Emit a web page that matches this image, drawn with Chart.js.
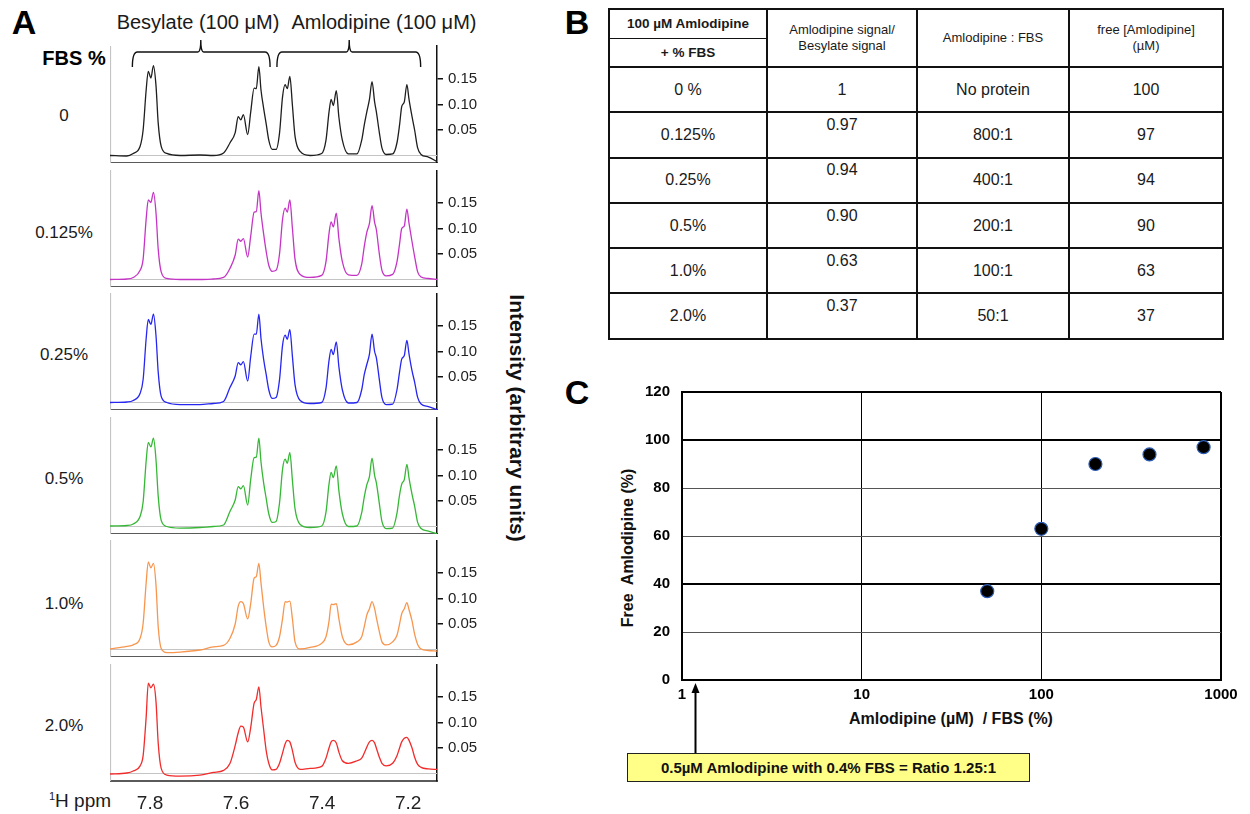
<!DOCTYPE html>
<html>
<head>
<meta charset="utf-8">
<script src="https://cdn.jsdelivr.net/npm/chart.js@4.4.1/dist/chart.umd.min.js"></script>
<style>
  body { margin: 0; background: #fff; font-family: "Liberation Sans", Arial, sans-serif; color: #1a1a1a; }
  #page { position: relative; width: 1250px; height: 814px; overflow: hidden; background: #fff; }
  .txt { position: absolute; line-height: 1; white-space: pre; transform: translate(-50%, -50%); }
  #tbl { position: absolute; left: 608px; top: 8px; width: 614px; border-collapse: collapse; table-layout: fixed; }
  #tbl td { border: 2px solid #111; text-align: center; vertical-align: middle; padding: 0; font-size: 16px; color: #1a1a1a; }
  #tbl tr.head td { height: 56px; font-size: 13px; line-height: 16px; }
  #tbl tr.body td { height: 43.3px; }
  #tbl span.raised { position: relative; top: -10px; }
  .hsplit { font-weight: bold; font-size: 13.5px; height: 27.5px; line-height: 27.5px; }
  .hsplit.top { border-bottom: 1.5px solid #111; }
  #note { position: absolute; left: 627px; top: 753px; width: 401px; height: 27px; background: #ffff88; border: 1.5px solid #222;
          font-weight: bold; font-size: 15px; line-height: 27px; text-align: center; color: #111; }
</style>
</head>
<body>
<div id="page"></div>
<script>
// ---- chemical shift axis (ppm) shared by all spectra ----
const ppm = [
  7.893, 7.854, 7.839, 7.823, 7.816, 7.809, 7.804, 7.798, 7.792, 7.786,
  7.781, 7.774, 7.761, 7.730, 7.684, 7.653, 7.629, 7.614, 7.602, 7.595,
  7.589, 7.583, 7.573, 7.566, 7.558, 7.553, 7.547, 7.542, 7.536, 7.530,
  7.524, 7.516, 7.507, 7.499, 7.492, 7.486, 7.481, 7.475, 7.469, 7.463,
  7.451, 7.428, 7.401, 7.391, 7.384, 7.379, 7.374, 7.367, 7.361, 7.353,
  7.339, 7.319, 7.308, 7.302, 7.296, 7.290, 7.284, 7.278, 7.274, 7.267,
  7.261, 7.251, 7.236, 7.226, 7.220, 7.215, 7.209, 7.203, 7.198, 7.191,
  7.185, 7.178, 7.170, 7.153, 7.133
];
const ppmTicks = [7.8, 7.6, 7.4, 7.2];
const intensityTicks = [0.05, 0.10, 0.15];

// ---- 1H spectra, one per FBS concentration ----
const spec0 = [
  0.000, -0.001, 0.004, 0.018, 0.050, 0.128, 0.165, 0.152, 0.176, 0.136,
  0.064, 0.018, 0.004, 0.000, 0.001, 0.000, 0.005, 0.025, 0.045, 0.076,
  0.070, 0.080, 0.041, 0.085, 0.132, 0.131, 0.174, 0.128, 0.093, 0.062,
  0.030, 0.012, 0.012, 0.044, 0.115, 0.139, 0.131, 0.155, 0.098, 0.038,
  0.008, 0.000, 0.004, 0.030, 0.085, 0.110, 0.098, 0.127, 0.075, 0.030,
  0.003, 0.003, 0.030, 0.060, 0.086, 0.110, 0.145, 0.105, 0.086, 0.045,
  0.015, 0.002, 0.003, 0.025, 0.060, 0.096, 0.105, 0.139, 0.110, 0.076,
  0.050, 0.015, 0.002, -0.003, -0.012
];
const spec0125 = [
  0.000, 0.001, 0.004, 0.018, 0.040, 0.118, 0.156, 0.151, 0.171, 0.130,
  0.060, 0.015, 0.002, 0.000, 0.000, 0.001, 0.004, 0.022, 0.048, 0.079,
  0.075, 0.080, 0.044, 0.085, 0.132, 0.133, 0.174, 0.130, 0.090, 0.055,
  0.028, 0.016, 0.018, 0.050, 0.118, 0.140, 0.132, 0.156, 0.100, 0.040,
  0.010, 0.004, 0.008, 0.035, 0.090, 0.113, 0.103, 0.130, 0.080, 0.035,
  0.009, 0.008, 0.030, 0.065, 0.093, 0.110, 0.145, 0.112, 0.098, 0.050,
  0.018, 0.007, 0.010, 0.035, 0.070, 0.100, 0.105, 0.138, 0.110, 0.074,
  0.045, 0.015, 0.005, 0.002, 0.000
];
const spec025 = [
  0.000, 0.001, 0.004, 0.018, 0.045, 0.125, 0.163, 0.153, 0.173, 0.130,
  0.060, 0.012, 0.000, -0.004, -0.004, -0.002, 0.002, 0.030, 0.052, 0.078,
  0.074, 0.080, 0.042, 0.090, 0.134, 0.134, 0.173, 0.125, 0.085, 0.055,
  0.025, 0.008, 0.010, 0.045, 0.112, 0.132, 0.124, 0.143, 0.090, 0.035,
  0.004, -0.002, 0.000, 0.028, 0.082, 0.104, 0.094, 0.119, 0.070, 0.025,
  -0.001, 0.000, 0.025, 0.055, 0.075, 0.095, 0.134, 0.100, 0.088, 0.045,
  0.010, -0.004, -0.003, 0.025, 0.060, 0.085, 0.092, 0.122, 0.095, 0.062,
  0.040, 0.010, -0.003, -0.008, -0.014
];
const spec05 = [
  0.001, 0.002, 0.005, 0.020, 0.048, 0.128, 0.165, 0.156, 0.173, 0.130,
  0.060, 0.012, 0.000, -0.003, -0.002, 0.000, 0.003, 0.030, 0.052, 0.078,
  0.074, 0.080, 0.042, 0.092, 0.135, 0.136, 0.173, 0.126, 0.086, 0.055,
  0.025, 0.008, 0.010, 0.046, 0.112, 0.132, 0.124, 0.145, 0.090, 0.035,
  0.004, -0.002, 0.001, 0.028, 0.083, 0.106, 0.096, 0.119, 0.070, 0.025,
  0.000, 0.001, 0.027, 0.058, 0.082, 0.098, 0.134, 0.100, 0.086, 0.045,
  0.010, -0.004, -0.003, 0.026, 0.062, 0.083, 0.092, 0.122, 0.095, 0.063,
  0.040, 0.008, -0.004, -0.009, -0.014
];
const spec10 = [
  0.001, 0.006, 0.009, 0.022, 0.051, 0.130, 0.172, 0.160, 0.169, 0.125,
  0.045, 0.002, -0.006, -0.005, -0.001, 0.005, 0.008, 0.022, 0.050, 0.085,
  0.094, 0.090, 0.060, 0.090, 0.140, 0.143, 0.169, 0.130, 0.084, 0.045,
  0.015, 0.005, 0.008, 0.025, 0.060, 0.094, 0.093, 0.095, 0.060, 0.015,
  0.001, 0.004, 0.012, 0.025, 0.055, 0.089, 0.088, 0.090, 0.060, 0.025,
  0.009, 0.015, 0.025, 0.045, 0.068, 0.080, 0.094, 0.080, 0.063, 0.035,
  0.015, 0.009, 0.015, 0.028, 0.050, 0.070, 0.080, 0.092, 0.078, 0.056,
  0.030, 0.010, 0.001, -0.002, -0.003
];
const spec20 = [
  -0.001, 0.001, 0.005, 0.015, 0.035, 0.110, 0.177, 0.168, 0.175, 0.140,
  0.060, 0.010, -0.003, -0.005, -0.003, 0.002, 0.006, 0.020, 0.055, 0.080,
  0.093, 0.091, 0.062, 0.090, 0.138, 0.145, 0.170, 0.130, 0.087, 0.045,
  0.020, 0.007, 0.008, 0.020, 0.040, 0.058, 0.065, 0.062, 0.045, 0.022,
  0.008, 0.010, 0.014, 0.030, 0.050, 0.062, 0.065, 0.060, 0.042, 0.025,
  0.020, 0.025, 0.030, 0.040, 0.052, 0.062, 0.065, 0.060, 0.050, 0.032,
  0.020, 0.015, 0.020, 0.035, 0.050, 0.062, 0.069, 0.071, 0.065, 0.050,
  0.032, 0.018, 0.012, 0.009, 0.008
];
const spectra = [spec0, spec0125, spec025, spec05, spec10, spec20];
const fbsLabels = ["0", "0.125%", "0.25%", "0.5%", "1.0%", "2.0%"];
const lineColors = ["#1e1e1e", "#c535c5", "#2626f0", "#36b836", "#f7964f", "#f22b2b"];

// brackets over the besylate and amlodipine signals (ppm)
const bracketSpans = [
  { from: 7.841, to: 7.521, mid: 7.682 },
  { from: 7.505, to: 7.171, mid: 7.337 }
];

// ---- table B / plot C ----
const tableFbs = ["0 %", "0.125%", "0.25%", "0.5%", "1.0%", "2.0%"];
const signalRatio = ["1", "0.97", "0.94", "0.90", "0.63", "0.37"];
const ratioText = ["No protein", "800:1", "400:1", "200:1", "100:1", "50:1"];
const amloPerFbs = [null, 800, 400, 200, 100, 50];
const freeAmlo = [100, 97, 94, 90, 63, 37];
const logTicks = [1, 10, 100, 1000];
const freeTicks = [0, 20, 40, 60, 80, 100, 120];
const noteRatio = 1.25;

const page = document.getElementById("page");
const FONT = '"Liberation Sans", Arial, sans-serif';

function label(text, cx, cy, css) {
  const d = document.createElement("div");
  d.className = "txt";
  d.innerHTML = text;
  d.style.left = cx + "px";
  d.style.top = cy + "px";
  d.style.cssText += css || "";
  page.appendChild(d);
  return d;
}

// drop the half-label padding Chart.js reserves around axes
function noLabelPadding(s) {
  s.paddingTop = 0;
  s.paddingBottom = 0;
  s.paddingLeft = 0;
  s.paddingRight = 0;
}

// ================= panel A =================
label("A", 24, 22, "font-weight:bold;font-size:34px;color:#000");
label("B", 577, 22, "font-weight:bold;font-size:34px;color:#000");
label("C", 577, 392, "font-weight:bold;font-size:34px;color:#000");

label("Besylate (100 μM)", 198, 22, "font-size:20px");
label("Amlodipine (100 μM)", 384, 22, "font-size:20px");
label("FBS %", 74, 58, "font-weight:bold;font-size:20px;color:#000");
label("Intensity (arbitrary units)", 517, 418, "font-weight:bold;font-size:21px;color:#111;transform:translate(-50%,-50%) rotate(90deg)");
label("<sup style='font-size:11px;vertical-align:7px'>1</sup>H ppm", 80, 800, "font-size:19px");

const rowLabelY = [115, 232, 354, 478, 603, 725];
fbsLabels.forEach((t, i) => label(t, 64, rowLabelY[i], "font-size:17px"));

const bracketPlugin = {
  id: "brackets",
  afterDraw(chart) {
    const { ctx, scales: { x } } = chart;
    const yh = 32, yb = 47;
    ctx.save();
    ctx.strokeStyle = "#111";
    ctx.lineWidth = 1.4;
    bracketSpans.forEach(b => {
      const x1 = x.getPixelForValue(b.from);
      const x2 = x.getPixelForValue(b.to);
      const xm = x.getPixelForValue(b.mid);
      ctx.beginPath();
      ctx.moveTo(x1, yb);
      ctx.quadraticCurveTo(x1, yh, x1 + 5, yh);
      ctx.lineTo(xm - 3, yh);
      ctx.quadraticCurveTo(xm, yh, xm, yh - 12);
      ctx.quadraticCurveTo(xm, yh, xm + 3, yh);
      ctx.lineTo(x2 - 5, yh);
      ctx.quadraticCurveTo(x2, yh, x2, yb);
      ctx.stroke();
    });
    ctx.restore();
  }
};

// faint zero line and left edge behind each trace
const spectrumFrame = {
  id: "spectrumFrame",
  beforeDatasetsDraw(chart) {
    const { ctx, chartArea: a, scales: { y } } = chart;
    const y0 = y.getPixelForValue(0);
    ctx.save();
    ctx.strokeStyle = "#c4c4c4";
    ctx.lineWidth = 1.2;
    ctx.beginPath();
    ctx.moveTo(a.left, y0);
    ctx.lineTo(a.right, y0);
    ctx.moveTo(a.left + 0.5, a.top);
    ctx.lineTo(a.left + 0.5, a.bottom);
    ctx.stroke();
    ctx.restore();
  }
};

const areaH = 117, zeroFromTop = 109.5, pxPerUnit = 510;
const yMax = zeroFromTop / pxPerUnit;
const yMin = -(areaH - zeroFromTop) / pxPerUnit;

spectra.forEach((vals, k) => {
  const first = k === 0;
  const last = k === spectra.length - 1;
  const areaTop = Math.round(46 + 123.6 * k);
  const padTop = first ? 26 : 0;
  const axisH = last ? 42 : 0;
  const w = 380, h = padTop + areaH + axisH;

  const canvas = document.createElement("canvas");
  canvas.width = w;
  canvas.height = h;
  canvas.style.cssText = `position:absolute;left:110px;top:${areaTop - padTop}px;width:${w}px;height:${h}px`;
  page.appendChild(canvas);

  new Chart(canvas, {
    type: "line",
    data: {
      datasets: [{
        data: ppm.map((p, i) => ({ x: p, y: vals[i] })),
        borderColor: lineColors[k],
        borderWidth: 1.3,
        pointRadius: 0,
        fill: false,
        cubicInterpolationMode: "monotone"
      }]
    },
    options: {
      responsive: false,
      animation: false,
      layout: { padding: { top: padTop, left: 0, right: 0, bottom: 0 } },
      plugins: { legend: { display: false }, tooltip: { enabled: false } },
      scales: {
        x: {
          type: "linear",
          reverse: true,
          min: ppm[ppm.length - 1],
          max: ppm[0],
          afterFit: s => { s.height = axisH; noLabelPadding(s); },
          afterBuildTicks: s => { s.ticks = ppmTicks.map(v => ({ value: v })); },
          ticks: {
            display: last,
            autoSkip: false,
            maxRotation: 0,
            padding: 11,
            color: "#222",
            font: { family: FONT, size: 19 },
            callback: v => v.toFixed(1)
          },
          grid: { display: false, drawTicks: false },
          border: { display: true, color: "#5a5a5a", width: 2 }
        },
        y: {
          position: "right",
          min: yMin,
          max: yMax,
          afterFit: s => { s.width = 53; noLabelPadding(s); },
          afterBuildTicks: s => { s.ticks = intensityTicks.map(v => ({ value: v })); },
          ticks: {
            padding: 5,
            color: "#222",
            font: { family: FONT, size: 15 },
            callback: v => v.toFixed(2)
          },
          grid: { drawOnChartArea: false, drawTicks: true, tickLength: 6, color: "#111", lineWidth: 1.5 },
          border: { display: true, color: "#111", width: 1.5 }
        }
      }
    },
    plugins: first ? [spectrumFrame, bracketPlugin] : [spectrumFrame]
  });
});

// ================= panel B: table =================
const tbl = document.createElement("table");
tbl.id = "tbl";
let html = `<colgroup><col style="width:158px"><col style="width:150px"><col style="width:152px"><col style="width:154px"></colgroup>`;
html += `<tr class="head">
  <td><div class="hsplit top">100 µM Amlodipine</div><div class="hsplit">+ % FBS</div></td>
  <td>Amlodipine signal/<br>Besylate signal</td>
  <td>Amlodipine : FBS</td>
  <td>free [Amlodipine]<br>(µM)</td></tr>`;
tableFbs.forEach((f, i) => {
  const ratioCell = i ? `<span class="raised">${signalRatio[i]}</span>` : signalRatio[i];
  html += `<tr class="body"><td>${f}</td><td>${ratioCell}</td><td>${ratioText[i]}</td><td>${freeAmlo[i]}</td></tr>`;
});
tbl.innerHTML = html;
page.appendChild(tbl);

// ================= panel C: free fraction vs ratio =================
label("Free  Amlodipine (%)", 628, 548, "font-weight:bold;font-size:16px;color:#111;transform:translate(-50%,-50%) rotate(-90deg)");
label("Amlodipine (µM)  / FBS (%)", 951, 719, "font-weight:bold;font-size:16px;color:#111");

const note = document.createElement("div");
note.id = "note";
note.textContent = "0.5µM Amlodipine with 0.4% FBS = Ratio 1.25:1";
page.appendChild(note);

const cCanvas = document.createElement("canvas");
cCanvas.width = 655;
cCanvas.height = 440;
cCanvas.style.cssText = "position:absolute;left:590px;top:370px;width:655px;height:440px";
page.appendChild(cCanvas);

// arrow from the note up to the axis
const arrowPlugin = {
  id: "noteArrow",
  afterDraw(chart) {
    const { ctx, chartArea: a, scales: { x } } = chart;
    const px = Math.round(x.getPixelForValue(noteRatio)) - 3.5;
    const tip = a.bottom + 3;
    const foot = 383;
    ctx.save();
    ctx.strokeStyle = "#000";
    ctx.fillStyle = "#000";
    ctx.lineWidth = 2;
    ctx.beginPath();
    ctx.moveTo(px, foot);
    ctx.lineTo(px, tip + 8);
    ctx.stroke();
    ctx.beginPath();
    ctx.moveTo(px, tip);
    ctx.lineTo(px - 4, tip + 10);
    ctx.lineTo(px + 4, tip + 10);
    ctx.closePath();
    ctx.fill();
    ctx.restore();
  }
};

const points = [];
amloPerFbs.forEach((r, i) => { if (r !== null) points.push({ x: r, y: freeAmlo[i] }); });

new Chart(cCanvas, {
  type: "scatter",
  data: {
    datasets: [{
      data: points,
      backgroundColor: "#000",
      borderColor: "#2d5db4",
      borderWidth: 1.2,
      pointRadius: 6.5
    }]
  },
  options: {
    responsive: false,
    animation: false,
    layout: { padding: { top: 22, right: 24, left: 0, bottom: 0 } },
    plugins: { legend: { display: false }, tooltip: { enabled: false } },
    scales: {
      x: {
        type: "logarithmic",
        min: 1,
        max: 1000,
        afterFit: s => { s.height = 130; },
        afterBuildTicks: s => { s.ticks = logTicks.map(v => ({ value: v })); },
        ticks: {
          autoSkip: false,
          maxRotation: 0,
          padding: 6,
          color: "#000",
          font: { family: FONT, size: 15, weight: "bold" },
          callback: v => String(v)
        },
        grid: {
          drawTicks: false,
          color: "#000",
          lineWidth: c => (c.tick && c.tick.value === 1000 ? 2 : 1)
        },
        border: { color: "#000", width: 2 }
      },
      y: {
        min: 0,
        max: 120,
        afterFit: s => { s.width = 92; },
        afterBuildTicks: s => { s.ticks = freeTicks.map(v => ({ value: v })); },
        ticks: {
          padding: 12,
          color: "#000",
          font: { family: FONT, size: 15, weight: "bold" }
        },
        grid: {
          drawTicks: false,
          color: c => ([40, 100, 120].includes(c.tick && c.tick.value) ? "#000" : "#555"),
          lineWidth: c => ([40, 100, 120].includes(c.tick && c.tick.value) ? 2 : 1)
        },
        border: { color: "#000", width: 2 }
      }
    }
  },
  plugins: [arrowPlugin]
});
</script>
</body>
</html>
